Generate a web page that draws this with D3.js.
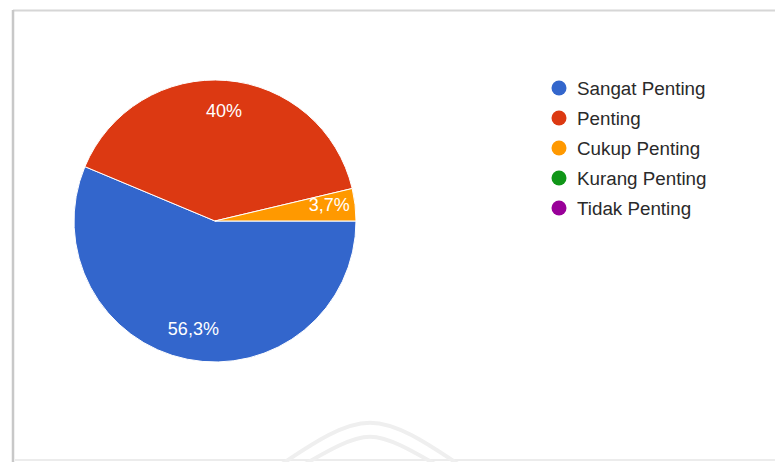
<!DOCTYPE html>
<html>
<head>
<meta charset="utf-8">
<script src="https://cdn.jsdelivr.net/npm/d3@7"></script>
<style>
  html, body { margin: 0; padding: 0; background: #fff; }
  svg { display: block; }
</style>
</head>
<body>
<svg id="chart" width="775" height="462"></svg>
<script>
// Survey responses (percent of respondents)
const categories = ["Sangat Penting", "Penting", "Cukup Penting", "Kurang Penting", "Tidak Penting"];
const values = [56.3, 40, 3.7, 0, 0];
const sliceLabels = ["56,3%", "40%", "3,7%", "", ""];
const colors = ["#3366cc", "#dc3912", "#ff9900", "#109618", "#990099"];

const svg = d3.select("#chart");
const W = 775, H = 462;

// panel frame (soft grey edge on top, left and bottom)
const frame = svg.append("g");
frame.append("line").attr("x1", 13).attr("x2", W).attr("y1", 10.5).attr("y2", 10.5)
  .attr("stroke", "#d6d6d6").attr("stroke-width", 2);
frame.append("line").attr("x1", 13).attr("x2", 13).attr("y1", 10).attr("y2", H)
  .attr("stroke", "#c8c8c8").attr("stroke-width", 2.5);
frame.append("line").attr("x1", 15).attr("x2", W).attr("y1", 460).attr("y2", 460)
  .attr("stroke", "#ececec").attr("stroke-width", 2);

// faint emblem near the bottom edge
const emblem = svg.append("g").attr("fill", "none").attr("stroke", "#efefef").attr("stroke-width", 4);
const chevron = d3.line().curve(d3.curveBasis);
emblem.append("path").attr("d", chevron([[282, 464], [330, 432], [370, 418], [410, 432], [458, 464]]));
emblem.append("path").attr("d", chevron([[305, 464], [340, 444], [370, 433], [400, 444], [435, 464]]));

// pie
const cx = 215, cy = 221, R = 141;
const pie = d3.pie().sort(null).value(d => d)
  .startAngle(Math.PI / 2).endAngle(Math.PI / 2 + 2 * Math.PI);
const arcs = pie(values);
const arc = d3.arc().innerRadius(0).outerRadius(R);
const labelArc = d3.arc().innerRadius(R * 0.78).outerRadius(R * 0.78);

const g = svg.append("g").attr("transform", `translate(${cx},${cy})`);
g.selectAll("path.slice").data(arcs.filter(d => d.value > 0)).join("path")
  .attr("class", "slice")
  .attr("d", arc)
  .attr("fill", d => colors[d.index])
  .attr("stroke", "#fff").attr("stroke-width", 1);

g.selectAll("text.pct").data(arcs.filter(d => d.value > 0)).join("text")
  .attr("class", "pct")
  .attr("transform", d => {
    const [x, y] = labelArc.centroid(d);
    // nudge the thin slice's label outward along its edge
    return d.endAngle - d.startAngle < 0.3 ? `translate(${x + 5},${y - 3})` : `translate(${x},${y})`;
  })
  .attr("text-anchor", "middle").attr("dy", "0.33em")
  .attr("font-family", "Arial, 'Liberation Sans', sans-serif")
  .attr("font-size", 18)
  .attr("fill", "#fff")
  .text(d => sliceLabels[d.index]);

// legend
const legend = svg.append("g").attr("transform", "translate(559,88)");
const items = legend.selectAll("g").data(categories).join("g")
  .attr("transform", (d, i) => `translate(0,${i * 30})`);
items.append("circle").attr("r", 7.5).attr("fill", (d, i) => colors[i]);
items.append("text").attr("x", 18).attr("dy", "0.36em")
  .attr("font-family", "Arial, 'Liberation Sans', sans-serif")
  .attr("font-size", 18.8).attr("fill", "#2a2a2a")
  .text(d => d);
</script>
</body>
</html>
